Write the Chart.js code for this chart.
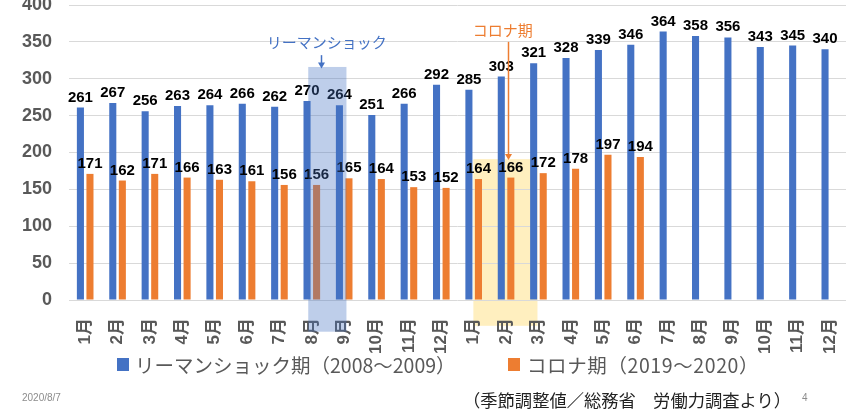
<!DOCTYPE html>
<html>
<head>
<meta charset="utf-8">
<script src="https://cdn.jsdelivr.net/npm/chart.js@4/dist/chart.umd.min.js"></script>
<style>
  html, body { margin:0; padding:0; background:#fff; }
  #wrap { position:relative; width:854px; height:409px; overflow:hidden; font-family:'Liberation Sans','Noto Sans CJK JP',sans-serif; }
  canvas { position:absolute; left:0; top:0; }
  .lg { position:absolute; top:354px; height:22px; line-height:22px; font-size:19.5px; color:#595959; font-family:'Noto Sans CJK JP',sans-serif; white-space:nowrap; }
  .box { position:absolute; top:358px; width:12px; height:13px; }
  .foot { position:absolute; white-space:nowrap; }
</style>
</head>
<body>
<div id="wrap">
  <canvas id="c" width="854" height="409"></canvas>
  <div class="box" style="left:117px;background:#4472C4"></div>
  <div class="lg" id="lg1" style="left:135px"></div>
  <div class="box" style="left:508px;background:#ED7D31"></div>
  <div class="lg" id="lg2" style="left:527px;letter-spacing:0.6px"></div>
  <div class="foot" style="left:22px;top:392px;font-size:10px;color:#8c8c8c;font-family:'Liberation Sans',sans-serif">2020/8/7</div>
  <div class="foot" style="left:463px;top:387px;font-size:17.3px;color:#222;font-family:'Noto Sans CJK JP',sans-serif">（季節調整値／総務省　労働力調査より）</div>
  <div class="foot" style="left:802px;top:392px;font-size:10px;color:#8c8c8c;font-family:'Liberation Sans',sans-serif">4</div>
</div>
<script>
const categories = ['1月','2月','3月','4月','5月','6月','7月','8月','9月','10月','11月','12月',
                    '1月','2月','3月','4月','5月','6月','7月','8月','9月','10月','11月','12月'];
const lehmanLabel = 'リーマンショック期（2008～2009）';
const coronaLabel = 'コロナ期（2019～2020）';
const lehmanValues = [261,267,256,263,264,266,262,270,264,251,266,292,285,303,321,328,339,346,364,358,356,343,345,340];
const coronaValues = [171,162,171,166,163,161,156,156,165,164,153,152,164,166,172,178,197,194];
const yTicks = [0,50,100,150,200,250,300,350,400];

document.getElementById('lg1').textContent = lehmanLabel;
document.getElementById('lg2').textContent = coronaLabel;

const BLUE = '#4472C4', ORANGE = '#ED7D31';
const NUMFONT = "'Liberation Sans', Arial, sans-serif";
const JPFONT = "'Noto Sans CJK JP', sans-serif";

function arrow(ctx, x, y1, y2, color, lw) {
  ctx.save();
  ctx.strokeStyle = color; ctx.fillStyle = color; ctx.lineWidth = lw;
  ctx.beginPath(); ctx.moveTo(x, y1); ctx.lineTo(x, y2 - 5); ctx.stroke();
  ctx.beginPath(); ctx.moveTo(x - 3.5, y2 - 6); ctx.lineTo(x + 3.5, y2 - 6); ctx.lineTo(x, y2); ctx.closePath(); ctx.fill();
  ctx.restore();
}

const annot = {
  id: 'annot',
  beforeDraw(chart) {
    const {ctx, scales:{x, y}} = chart;
    const l = x.getPixelForValue(11.99), r = x.getPixelForValue(13.97);
    const t = y.getPixelForValue(191), b = y.getPixelForValue(-35);
    ctx.save();
    ctx.fillStyle = 'rgba(255,217,102,0.42)';
    ctx.fillRect(l, t, r - l, b - t);
    ctx.restore();
  },
  afterDatasetsDraw(chart) {
    const {ctx, scales:{x, y}} = chart;
    ctx.save();
    ctx.font = "bold 15px " + NUMFONT;
    ctx.fillStyle = '#000';
    ctx.textAlign = 'center';
    ctx.textBaseline = 'alphabetic';
    chart.data.datasets.forEach((ds, di) => {
      const meta = chart.getDatasetMeta(di);
      meta.data.forEach((bar, i) => {
        const v = ds.data[i];
        if (v == null) return;
        ctx.fillText(String(v), bar.x, bar.y - 6);
      });
    });
    ctx.restore();
    const l = x.getPixelForValue(6.89), r = x.getPixelForValue(8.07);
    const t = y.getPixelForValue(316), b = y.getPixelForValue(-43);
    ctx.save();
    ctx.fillStyle = 'rgba(68,114,196,0.35)';
    ctx.fillRect(l, t, r - l, b - t);
    ctx.restore();
  },
  afterDraw(chart) {
    const {ctx, scales:{x, y}} = chart;
    ctx.save();
    ctx.font = "15px " + JPFONT;
    ctx.textAlign = 'center';
    ctx.textBaseline = 'middle';
    ctx.fillStyle = BLUE;
    ctx.fillText('リーマンショック', x.getPixelForValue(7.46), y.getPixelForValue(349));
    ctx.fillStyle = ORANGE;
    ctx.fillText('コロナ期', x.getPixelForValue(12.9), y.getPixelForValue(366));
    ctx.restore();
    arrow(ctx, Math.round(x.getPixelForValue(7.27)) + 0.5, y.getPixelForValue(332), y.getPixelForValue(314), BLUE, 1.5);
    arrow(ctx, Math.round(x.getPixelForValue(13.05)) + 0.5, y.getPixelForValue(350), y.getPixelForValue(190), ORANGE, 1.5);
  }
};

new Chart(document.getElementById('c'), {
  type: 'bar',
  data: {
    labels: categories,
    datasets: [
      { label: lehmanLabel, data: lehmanValues, backgroundColor: BLUE, categoryPercentage: 0.59, barPercentage: 0.74 },
      { label: coronaLabel, data: coronaValues, backgroundColor: ORANGE, categoryPercentage: 0.59, barPercentage: 0.74 }
    ]
  },
  options: {
    responsive: false,
    animation: false,
    layout: { padding: { top: 5, right: 8, left: 0, bottom: 0 } },
    plugins: { legend: { display: false }, tooltip: { enabled: false } },
    scales: {
      x: {
        grid: { display: false },
        border: { display: false },
        ticks: {
          autoSkip: false, maxRotation: 90, minRotation: 90, padding: 10,
          color: '#595959', font: { family: "'Liberation Sans','Noto Sans CJK JP',sans-serif", size: 17, weight: 'bold' }
        },
        afterFit(s) { s.height = 109; s.paddingLeft = 0; s.paddingRight = 0; }
      },
      y: {
        min: 0, max: 400,
        afterBuildTicks(s) { s.ticks = yTicks.map(v => ({ value: v })); },
        grid: { color: '#d9d9d9', lineWidth: 1, drawTicks: false },
        border: { display: false },
        ticks: {
          padding: 17, color: '#595959',
          font: { family: NUMFONT, size: 18, weight: 'bold' }
        },
        afterFit(s) { s.width = 69; s.paddingTop = 0; s.paddingBottom = 0; }
      }
    }
  },
  plugins: [annot]
});
</script>
</body>
</html>
